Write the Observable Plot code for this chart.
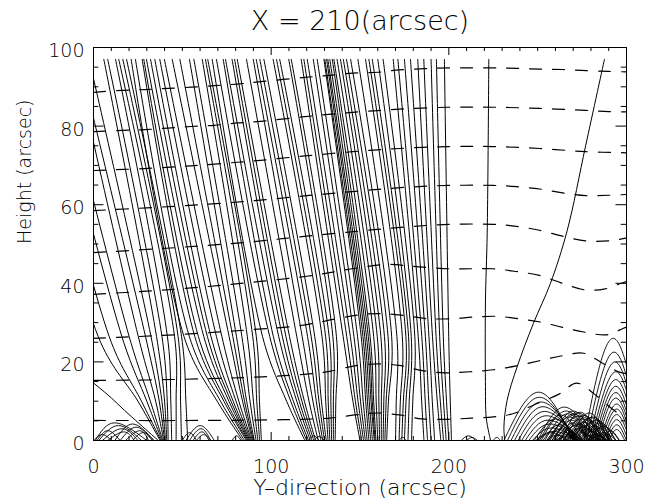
<!DOCTYPE html>
<html><head><meta charset="utf-8">
<script src="https://cdn.jsdelivr.net/npm/d3@7"></script>
<script src="https://cdn.jsdelivr.net/npm/@observablehq/plot@0.6"></script>
<style>
html,body{margin:0;padding:0;background:#fff;}
#chart svg{display:block;}
</style></head><body><div id="chart"></div>
<script>
// ---------------- text ----------------
const titleText = "X = 210(arcsec)";
const xLabelText = "Y\u2013direction (arcsec)";
const yLabelText = "Height (arcsec)";
const xTicks = [0, 100, 200, 300];
const yTicks = [0, 20, 40, 60, 80, 100];
const xMinorTicks = d3.range(0, 301, 10).filter(v => v % 100 !== 0);
const yMinorTicks = d3.range(0, 101, 5).filter(v => v % 20 !== 0);

// ---------------- solid field lines ----------------
// x position (arcsec) of each line at the heights below
const fieldHeights = [97, 25, 10, 0];
const fieldLines = [
  [-60, -20, 12, 36.5],
  [-40, 4, 25, 37.5],
  [-32, 10, 27, 38],
  [-25, 17, 30, 38.5],
  [-20, 21, 32, 39],
  [-10.5, 26, 35, 39.5],
  [-8, 30, 37, 40],
  [-2.5, 33, 38.5, 40.5],
  [5.8, 36, 40, 41.2],
  [8, 39, 41.5, 42],
  [12.4, 42, 43.5, 44],
  [14.2, 46, 46.5, 46.5],
  [16.5, 48, 49, 49.5],
  [18.6, 50, 52, 53],
  [21.2, 52, 69.6, 84],
  [23.6, 55, 71.5, 85],
  [27.4, 58, 73.4, 86],
  [28.3, 60, 74.6, 86.5],
  [29.8, 63, 76.2, 87],
  [32.1, 65, 77.4, 87.5],
  [34.5, 67, 78.6, 88],
  [37.3, 70, 80.2, 88.5],
  [39.9, 73, 81.8, 89],
  [44.3, 77, 83.9, 89.5],
  [48.6, 79, 85, 90],
  [54, 81, 86.2, 90.5],
  [56.5, 84, 88.1, 91.5],
  [61.2, 87, 90, 92.5],
  [63, 90, 91.9, 93.5],
  [64.3, 92, 93.4, 94.5],
  [66.8, 96, 108.7, 119],
  [69.2, 100, 111, 120],
  [73, 102, 112.5, 121],
  [74.3, 105, 114.4, 122],
  [78, 107, 115.8, 123],
  [79.4, 109, 117.3, 124],
  [80.9, 111, 118.7, 125],
  [86.1, 115, 121.3, 126.5],
  [89.9, 118, 123.5, 128],
  [91.6, 121, 125.4, 129],
  [93.6, 123, 126.9, 130],
  [95.9, 125, 128.3, 131],
  [101.1, 129, 130.7, 132],
  [103, 131, 132.1, 133],
  [104.8, 133, 133.6, 134],
  [109.9, 135, 135, 135],
  [111.3, 137, 136.4, 136],
  [116.9, 141, 146, 150],
  [118.4, 143, 147.4, 151],
  [120.3, 145, 148.9, 152],
  [123.7, 147, 150.3, 153],
  [125.9, 149, 151.8, 154],
  [129.7, 151, 153.2, 155],
  [130.2, 152, 154.2, 156],
  [131.2, 153, 155.2, 157],
  [131.9, 154, 156.2, 158],
  [133, 155, 156.9, 158.5],
  [134.4, 156, 157.7, 159],
  [135.3, 158, 159.1, 160],
  [137.1, 160, 160.6, 161],
  [139, 162, 162, 162],
  [140.6, 164, 163.4, 163],
  [142.4, 166, 164.7, 164],
  [144.7, 168, 166, 165],
  [148.8, 171, 170.4, 170],
  [153.1, 174, 172.7, 172],
  [155, 176, 174.4, 173.5],
  [156.9, 177.5, 175.9, 175],
  [160, 179, 177.7, 177],
  [163, 181, 179.7, 179],
  [168.7, 183, 184.7, 186],
  [171.3, 185, 186.7, 188],
  [175, 187, 188.7, 190],
  [178.4, 189, 190.7, 192],
  [182.5, 191, 193.5, 195.5],
  [185.9, 193, 195.2, 197],
  [190, 195, 197, 198.5],
  [193, 197, 198.7, 200],
  [197.5, 200, 200.8, 201.5]
];
// two isolated lines on the right: [x, height]
const rightLineA = [[222.5, 97], [221.6, 53], [220.6, 35], [220.6, 15], [221, 6], [222.5, 2], [223.5, 0]];
const rightLineB = [[287.6, 97], [277, 75], [266.6, 53.4], [257.2, 40], [247.6, 29.8], [238.4, 18.7], [232.8, 10.2], [231, 3.4], [231.5, 0]];

// closed loops near the surface: [left foot, peak x, peak height, right foot]
const loops = [
  [1, 12, 4.5, 30], [3, 14, 3.8, 27], [5, 16, 3, 25], [8, 17, 2.2, 23], [12, 22, 4.2, 34],
  [15, 24, 3.4, 33], [18, 26, 2.5, 31], [2, 8, 2.5, 15], [22, 28, 2, 34], [0, 5, 1.5, 10],
  [52, 60, 3.8, 68], [54, 60.5, 3, 66], [56, 61, 2.2, 65], [50, 54, 2, 58], [58, 62, 1.5, 66],
  [78, 80.5, 1.2, 83], [121, 124, 1.2, 127], [124, 127, 1, 130], [172, 174, 0.8, 176],
  [207, 211, 1.2, 215], [210, 213, 0.8, 216], [225, 227, 0.8, 229],
  [231, 250.5, 12.3, 270], [233, 251, 11, 271], [235, 252, 9.8, 272], [237, 253, 8.6, 273],
  [239, 254, 7.4, 274], [241, 255, 6.3, 275], [243, 256, 5.2, 275], [245, 257, 4.2, 275],
  [247, 258, 3.2, 274], [249, 259, 2.3, 273],
  [250, 265, 8.5, 282], [252, 266, 7.5, 281], [254, 267, 6.8, 280], [256, 268, 6, 279],
  [258, 269, 5.2, 279], [260, 270, 4.5, 278], [262, 271, 3.8, 278], [264, 272, 3, 277],
  [255, 272, 7, 289], [258, 273.5, 6.2, 288], [261, 275, 5.5, 287], [264, 276, 4.6, 286],
  [267, 277, 3.8, 285], [270, 278.5, 3, 284], [266, 274, 2.2, 282], [268, 280, 5.8, 292],
  [271, 281, 4.8, 291], [274, 282, 3.8, 290],
  [253, 262, 4, 271], [256, 263, 3, 270], [259, 264.5, 2.2, 270], [262, 267, 1.5, 272],
  [266, 271, 1.8, 276], [269, 274, 2.6, 279], [272, 277, 1.6, 282], [275, 280, 2.4, 285],
  [278, 283, 1.7, 288], [280, 285, 3.2, 290], [283, 287, 2, 291], [260, 266, 1, 272],
  [248, 260, 5.5, 272], [251, 263, 6.5, 275], [257, 270, 7.5, 283], [259, 271, 6.6, 283],
  [263, 274, 7.2, 285], [265, 276, 6.4, 287], [268, 279, 7, 290], [270, 281, 6, 292],
  [272, 283, 5.2, 294], [276, 285, 4.5, 294], [278, 287, 3.6, 296], [262, 273, 4.2, 284],
  [265, 275.5, 3.4, 286], [250, 258, 2, 266], [255, 261, 1.4, 267], [279, 284, 1.2, 289],
  [284, 289, 1.5, 294], [286, 291, 2.5, 296],
  [276, 292.5, 26, 309], [277.5, 293, 22.5, 308], [279, 293.5, 20, 307], [280, 294, 17.5, 306.5],
  [281, 294, 15.5, 306], [282, 294, 13.8, 305], [283, 294, 12.2, 304.5], [284, 294, 10.8, 304],
  [285, 294.5, 9.3, 303], [286, 294.5, 8, 302.5], [287, 294.5, 6.6, 302], [288, 294.5, 5.3, 301],
  [289, 294.5, 4, 300], [290, 294.5, 2.8, 299]
];

// ---------------- dashed lines: [x, height] ----------------
const dashed1 = [[0,5.1],[60,5.1],[107,5.3],[133,5.7],[147,6.5],[160,7],[172,6.5],[185,5.5],[200,5.4],[213,5.7],[225,6],[236,6.8],[249,9.3],[262,11.8],[272,14.6],[282,11.8],[292,8],[300,5.5]];
const dashed2 = [[0,15.3],[30,15.4],[70,15.8],[95,16.2],[107,16.5],[120,16.9],[133,17.6],[147,19],[160,19.5],[172,19.1],[185,17.8],[198,17.2],[212,17.5],[225,18],[238,19],[251,20.3],[263,21.5],[276,22.2],[286,19.8],[296,17.4],[300,17]];
const dashed3 = [[0,26],[17,26.3],[50,27],[95,28.4],[107,28.8],[120,29.5],[135,30.8],[150,32],[162,32.3],[175,31.8],[188,31],[202,31],[214,31.4],[227,31.6],[239,31],[252,30.1],[264,28.8],[276,27.6],[289,26.9],[298,28.5],[300,28.8]];
const dashed4 = [[0,37.2],[30,38],[60,39],[90,40.3],[120,41.8],[150,44],[165,44.8],[180,44.3],[200,43.7],[212,43.7],[225,43.7],[238,43],[251,42],[264,40],[277,38.3],[288,38.6],[297,40],[300,40.5]];
const dashed5 = [[0,47.8],[30,48.6],[60,49.5],[90,50.6],[120,52],[150,53.3],[175,54.3],[200,55],[225,55],[238,54.5],[251,53.5],[264,52],[277,50.8],[290,50.8],[300,51.5]];
const dashed6 = [[0,58.5],[30,59.2],[60,60],[90,61],[120,62.3],[150,63.5],[175,64.4],[200,64.9],[225,64.9],[238,64.6],[251,64],[264,63],[277,62.3],[290,62.4],[300,62.6]];
const dashed7 = [[0,68.7],[29,69.2],[55,69.9],[81,70.8],[94,71.3],[119,72.4],[146,73.5],[172,74.3],[200,74.8],[225,74.8],[251,74.3],[277,73.5],[300,73.2]];
const dashed8 = [[0,78.6],[16,78.9],[29,79.1],[42,79.5],[55,79.9],[68,80.2],[81,80.8],[94,81.2],[119,82.4],[146,83.5],[172,84.3],[200,84.8],[225,84.8],[251,84.5],[277,84],[290,83.7],[300,83.6]];
const dashed9 = [[0,88.6],[16,89.1],[29,89.3],[42,89.6],[55,89.9],[68,90.3],[81,90.7],[94,91.3],[119,92.4],[133,92.9],[146,93.5],[160,93.7],[172,94.3],[186,94.6],[200,94.8],[225,94.8],[238,94.7],[251,94.5],[264,94.4],[277.5,94.1],[290,93.9],[300,93.8]];
const dashedLines = [dashed1, dashed2, dashed3, dashed4, dashed5, dashed6, dashed7, dashed8, dashed9];

// ---------------- build tables ----------------
const fieldRows = fieldLines.flatMap((xs, i) => xs.map((x, j) => ({id: "f" + i, x, y: fieldHeights[j]})));
const loneRows = [rightLineA, rightLineB].flatMap((pts, i) => pts.map(([x, y]) => ({id: "r" + i, x, y})));
const loopRows = loops.flatMap(([l, c, h, r], i) => [
  {id: "l" + i, x: l, y: 0}, {id: "l" + i, x: c, y: h}, {id: "l" + i, x: r, y: 0}
]);
const dashRows = dashedLines.flatMap((pts, i) => pts.map(([x, y]) => ({id: "d" + i, x, y})));

const W = 647, H = 499, mL = 93, mR = 21, mT = 47, mB = 59;
const fw = W - mL - mR, fh = H - mT - mB;
const font = "DejaVu Sans";

const chart = Plot.plot({
  width: W, height: H,
  marginLeft: mL, marginRight: mR, marginTop: mT, marginBottom: mB,
  x: {domain: [0, 300], axis: null},
  y: {domain: [0, 100], axis: null},
  style: {background: "white", fontFamily: font, color: "black"},
  marks: [
    Plot.line(fieldRows, {x: "x", y: "y", z: "id", curve: "catmull-rom", stroke: "black", strokeWidth: 1, clip: true}),
    Plot.line(loneRows, {x: "x", y: "y", z: "id", curve: "catmull-rom", stroke: "black", strokeWidth: 1, clip: true}),
    Plot.line(loopRows, {x: "x", y: "y", z: "id", curve: "natural", stroke: "black", strokeWidth: 0.9, clip: true}),
    Plot.line(dashRows, {x: "x", y: "y", z: "id", curve: "catmull-rom", stroke: "black", strokeWidth: 1.2, strokeDasharray: "12,11", clip: true}),
    // inward ticks on all four sides
    Plot.tickX(xTicks, {x: d => d, insetTop: fh - 8, stroke: "black"}),
    Plot.tickX(xTicks, {x: d => d, insetBottom: fh - 8, stroke: "black"}),
    Plot.tickX(xMinorTicks, {x: d => d, insetTop: fh - 4, stroke: "black"}),
    Plot.tickX(xMinorTicks, {x: d => d, insetBottom: fh - 4, stroke: "black"}),
    Plot.tickY(yTicks, {y: d => d, insetRight: fw - 10.5, stroke: "black"}),
    Plot.tickY(yTicks, {y: d => d, insetLeft: fw - 10.5, stroke: "black"}),
    Plot.tickY(yMinorTicks, {y: d => d, insetRight: fw - 5.3, stroke: "black"}),
    Plot.tickY(yMinorTicks, {y: d => d, insetLeft: fw - 5.3, stroke: "black"}),
    Plot.frame({stroke: "black", strokeWidth: 1}),
    // tick labels
    Plot.text(xTicks, {x: d => d, text: d => String(d), frameAnchor: "bottom", dy: 32, lineAnchor: "bottom", fontSize: 19, fontWeight: 200, fill: "black", ariaLabel: "xticklabels"}),
    Plot.text(yTicks, {y: d => d, text: d => String(d), frameAnchor: "left", dx: -9, dy: 3.5, textAnchor: "end", lineAnchor: "middle", fontSize: 19, fontWeight: 200, fill: "black", ariaLabel: "yticklabels"}),
    // title and axis labels
    Plot.text([titleText], {text: d => d, frameAnchor: "top", dy: -18, lineAnchor: "bottom", fontSize: 27, fontWeight: 200, fill: "black", ariaLabel: "title"}),
    Plot.text([xLabelText], {text: d => d, frameAnchor: "bottom", dy: 54, lineAnchor: "bottom", fontSize: 22, fontWeight: 200, fill: "black", ariaLabel: "xlabel"}),
    Plot.text([yLabelText], {text: d => d, frameAnchor: "left", dx: -69, rotate: -90, lineAnchor: "middle", fontSize: 19, fontWeight: 200, fill: "black", ariaLabel: "ylabel"})
  ]
});
document.getElementById("chart").appendChild(chart);
d3.select(chart).selectAll('g[aria-label="title"] text').style("letter-spacing", "1.5px");
d3.select(chart).selectAll('g[aria-label="xlabel"] text').style("letter-spacing", "1px");
d3.select(chart).selectAll('g[aria-label="ylabel"] text').style("letter-spacing", "0.5px");
</script></body></html>
